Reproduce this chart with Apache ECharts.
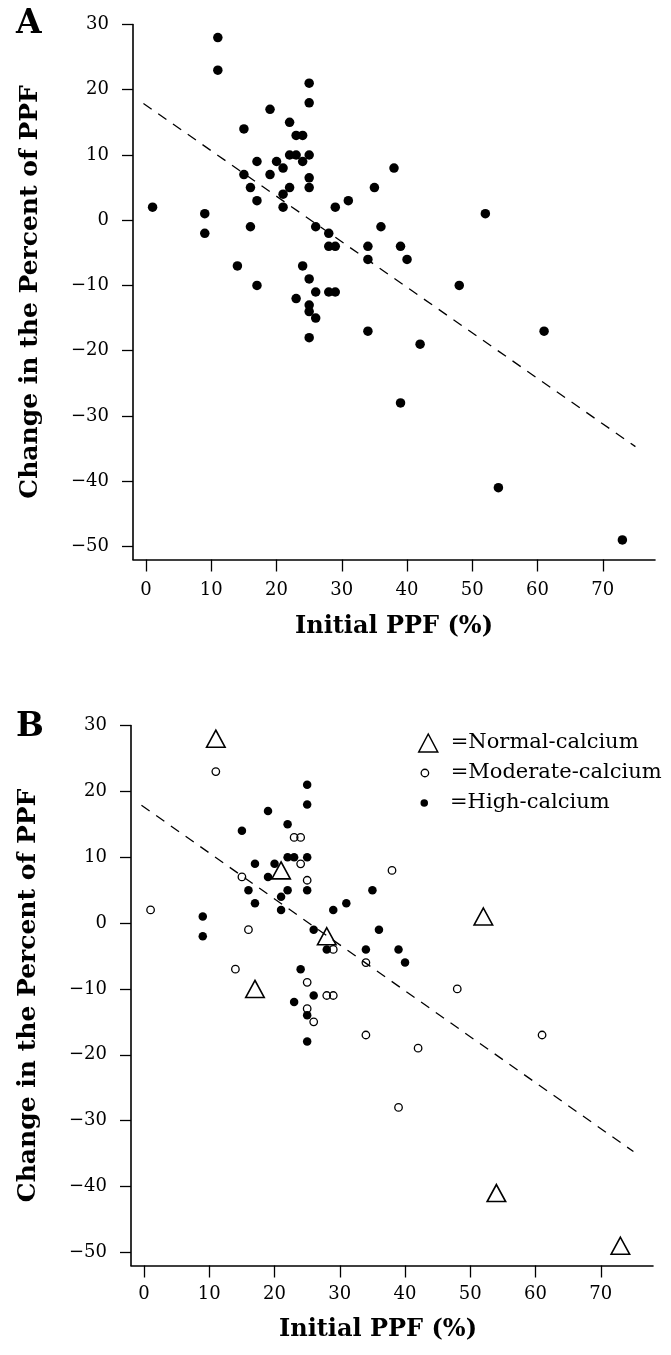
<!DOCTYPE html>
<html>
<head>
<meta charset="utf-8">
<script src="https://cdn.jsdelivr.net/npm/echarts@6/dist/echarts.min.js"></script>
<style>
html,body{margin:0;padding:0;background:#fff;}
#chart{width:671px;height:1355px;}
</style>
</head>
<body>
<div id="chart"></div>
<script>
// ---- data ----
const normalX = [11, 21, 17, 28, 52, 54, 73];
const normalY = [28, 8, -10, -2, 1, -41, -49];
const moderateX = [1, 11, 14, 15, 16, 23, 24, 24, 25, 25, 25, 26, 28, 29, 29, 34, 34, 38, 39, 42, 48, 61];
const moderateY = [2, 23, -7, 7, -1, 13, 13, 9, 6.5, -9, -13, -15, -11, -4, -11, -6, -17, 8, -28, -19, -10, -17];
const highX = [9, 9, 15, 16, 17, 17, 19, 19, 20, 21, 21, 22, 22, 22, 23, 23, 24, 25, 25, 25, 25, 25, 25, 26, 26, 28, 29, 31, 34, 35, 36, 39, 40];
const highY = [1, -2, 14, 5, 9, 3, 17, 7, 9, 4, 2, 15, 10, 5, 10, -12, -7, 21, 18, 10, 5, -14, -18, -1, -11, -4, 2, 3, -4, 5, -1, -4, -6];
const fitX = [-0.4, 75];
const fitY = [17.9, -34.7];
const xTicks = [0, 10, 20, 30, 40, 50, 60, 70];
const yTicks = [30, 20, 10, 0, -10, -20, -30, -40, -50];
const groupNames = ['Normal-calcium', 'Moderate-calcium', 'High-calcium'];
const panelLetters = ['A', 'B'];
const xTitle = 'Initial PPF (%)';
const yTitle = 'Change in the Percent of PPF';

const pairs = (xs, ys) => xs.map((x, i) => [x, ys[i]]);
const allPoints = pairs(normalX, normalY).concat(pairs(moderateX, moderateY), pairs(highX, highY));

const FONT = '"DejaVu Serif", "Liberation Serif", serif';
const BLACK = '#000';

function xAxisCfg(gi, margin, gap, shift) {
  return {
    gridIndex: gi, type: 'value', min: -2, max: 78,
    axisLine: { show: true, onZero: false, lineStyle: { color: BLACK, width: 1.6 } },
    axisTick: { show: true, length: 12, customValues: xTicks, lineStyle: { color: BLACK, width: 1.3 } },
    axisLabel: { customValues: xTicks, margin: margin, fontFamily: FONT, fontSize: 18, color: BLACK },
    splitLine: { show: false },
    name: xTitle, nameLocation: 'middle', nameGap: gap,
    nameTextStyle: { fontFamily: FONT, fontWeight: 'bold', fontSize: 24, color: BLACK, padding: [0, shift, 0, 0] }
  };
}
function yAxisCfg(gi) {
  return {
    gridIndex: gi, type: 'value', min: -52, max: 30,
    axisLine: { show: true, onZero: false, lineStyle: { color: BLACK, width: 1.6 } },
    axisTick: { show: true, length: 11, customValues: yTicks, lineStyle: { color: BLACK, width: 1.3 } },
    axisLabel: {
      customValues: yTicks, margin: 24, fontFamily: FONT, fontSize: 18, color: BLACK,
      formatter: v => (v < 0 ? '\u2212' + Math.abs(v) : String(v))
    },
    splitLine: { show: false },
    name: yTitle, nameLocation: 'middle', nameGap: 90, nameRotate: 90,
    nameTextStyle: { fontFamily: FONT, fontWeight: 'bold', fontSize: 25, color: BLACK }
  };
}
function fitSeries(gi) {
  return {
    type: 'line', xAxisIndex: gi, yAxisIndex: gi, data: pairs(fitX, fitY),
    symbol: 'none', silent: true, z: 1,
    lineStyle: { color: BLACK, width: 1.3, type: [10, 8] }
  };
}
function legendText(pad) {
  return { fontFamily: FONT, fontSize: 21, color: BLACK, lineHeight: 22, padding: [0, 0, 0, pad] };
}

const option = {
  animation: false,
  backgroundColor: '#fff',
  grid: [
    { left: 133, top: 24.5, width: 522, height: 535 },
    { left: 131, top: 725.5, width: 522, height: 540 }
  ],
  xAxis: [xAxisCfg(0, 22, 55, 0), xAxisCfg(1, 20, 52, 28)],
  yAxis: [yAxisCfg(0), yAxisCfg(1)],
  legend: [
    { data: [groupNames[0]], left: 413, top: 727, itemWidth: 19, itemHeight: 18, icon: 'triangle',
      symbolKeepAspect: false, selectedMode: false, formatter: '={name}', textStyle: legendText(8),
      itemStyle: { color: 'rgba(0,0,0,0)', borderColor: BLACK, borderWidth: 1.5 } },
    { data: [groupNames[1]], left: 415.5, top: 757, itemWidth: 7.5, itemHeight: 7.5, icon: 'circle',
      selectedMode: false, formatter: '={name}', textStyle: legendText(17),
      itemStyle: { color: 'rgba(0,0,0,0)', borderColor: BLACK, borderWidth: 1.3 } },
    { data: [groupNames[2]], left: 415.5, top: 787, itemWidth: 7.5, itemHeight: 7.5, icon: 'circle',
      selectedMode: false, formatter: '={name}', textStyle: legendText(17),
      itemStyle: { color: BLACK, borderWidth: 0 } }
  ],
  graphic: [
    { type: 'text', left: 16, top: 8, style: { text: panelLetters[0], font: 'bold 33px ' + FONT, fill: BLACK } },
    { type: 'text', left: 16, top: 711, style: { text: panelLetters[1], font: 'bold 33px ' + FONT, fill: BLACK } }
  ],
  series: [
    fitSeries(0),
    { type: 'scatter', name: 'All subjects', xAxisIndex: 0, yAxisIndex: 0, data: allPoints,
      symbol: 'circle', symbolSize: 9.5, itemStyle: { color: BLACK, opacity: 1 }, z: 3 },
    fitSeries(1),
    { type: 'scatter', name: groupNames[2], xAxisIndex: 1, yAxisIndex: 1, data: pairs(highX, highY),
      symbol: 'circle', symbolSize: 8.5, itemStyle: { color: BLACK, opacity: 1 }, z: 3 },
    { type: 'scatter', name: groupNames[1], xAxisIndex: 1, yAxisIndex: 1, data: pairs(moderateX, moderateY),
      symbol: 'circle', symbolSize: 7.5,
      itemStyle: { color: 'rgba(0,0,0,0)', borderColor: BLACK, borderWidth: 1.3, opacity: 1 }, z: 4 },
    { type: 'scatter', name: groupNames[0], xAxisIndex: 1, yAxisIndex: 1, data: pairs(normalX, normalY),
      symbol: 'triangle', symbolSize: [18.5, 17],
      itemStyle: { color: 'rgba(0,0,0,0)', borderColor: BLACK, borderWidth: 1.6, opacity: 1 }, z: 5 }
  ]
};
const chart = echarts.init(document.getElementById('chart'), null, { renderer: 'canvas' });
chart.setOption(option);
</script>
</body>
</html>
